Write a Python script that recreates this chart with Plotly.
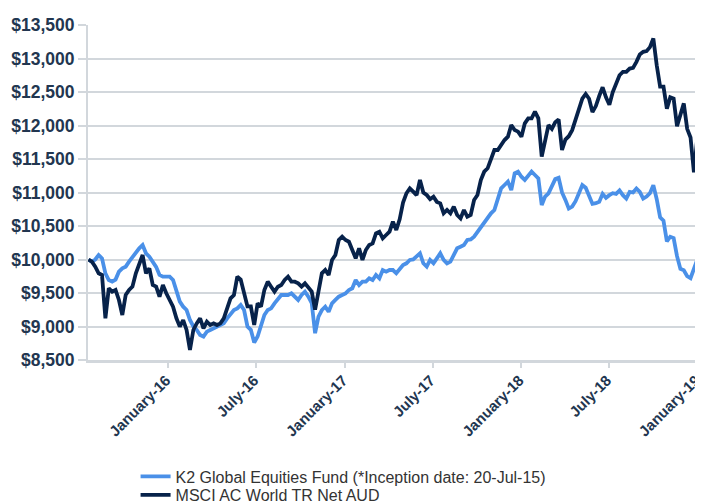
import pandas as pd
import plotly.graph_objects as go

# Weekly observation dates (Mondays) from inception 20-Jul-15 to 31-Dec-18
WEEK_START = "2015-07-20"
N_WEEKS = 181
dates = pd.date_range(WEEK_START, periods=N_WEEKS, freq="7D")

k2_fund = [
    10000, 9968, 10000, 10067, 10017, 9794, 9694, 9670, 9700, 9818,
    9868, 9893, 9968, 10042, 10117, 10167, 10216, 10092, 10042, 9968,
    9890, 9769, 9744, 9744, 9744, 9694, 9520, 9371, 9296, 9246,
    9097, 9000, 8948, 8873, 8848, 8923, 8948, 8973, 8998, 9022,
    9047, 9122, 9196, 9246, 9271, 9321, 9246, 9000,
    8950, 8760, 8850, 8998, 9172, 9246, 9271, 9346, 9420, 9470,
    9470, 9470, 9495, 9445, 9396, 9470, 9520, 9445, 9350, 8900,
    9147, 9246, 9296, 9221, 9346, 9396, 9445, 9470, 9495, 9545,
    9570, 9694, 9620, 9669, 9669, 9719, 9694, 9769, 9719, 9843,
    9818, 9843, 9843, 9794, 9860, 9918,
    9943, 9993, 10000, 10050, 10092, 9943, 9893, 9993, 9943, 10017,
    10092, 9993, 9943, 9968, 10067, 10167, 10191, 10216, 10291, 10300,
    10341, 10415, 10490, 10565, 10639, 10689, 10739, 10888, 11062, 11112,
    11162, 11037, 11286, 11311, 11236, 11187, 11261, 11311, 11261, 11211,
    10813, 10938, 10988, 11100, 11200, 11220,
    11000, 10890, 10760, 10790, 10870, 10990, 11110, 11070, 10940, 10830,
    10840, 10860, 10980, 10920, 10960, 10990, 10980, 11030, 10960, 10910,
    11010, 11000, 11060, 11010, 10910, 10940, 10990, 11110, 10900, 10630,
    10580, 10270, 10340, 10320, 10050, 9860, 9840, 9750, 9720, 9860, 10000,
]

msci_acwi = [
    10000, 9968, 9893, 9794, 9769, 9122, 9570, 9520, 9545, 9396,
    9172, 9470, 9545, 9595, 9794, 9943, 10067, 9794, 9868, 9620,
    9595, 9445, 9620, 9495, 9396, 9296, 9122, 8998, 9097, 8948,
    8649, 8948, 9047, 9122, 8973, 9072, 9022, 9047, 9022, 9047,
    9122, 9296, 9420, 9470, 9744, 9700, 9500, 9300,
    9300, 9022, 9346, 9296, 9545, 9669, 9594, 9520, 9594, 9620,
    9694, 9744, 9669, 9669, 9644, 9594, 9644, 9570, 9520, 9250,
    9495, 9794, 9843, 9769, 9993, 10067, 10291, 10341, 10291, 10266,
    10142, 10017, 10167, 9993, 10142, 10216, 10241, 10390, 10415, 10316,
    10366, 10415, 10565, 10440, 10600, 10850,
    10988, 11062, 11013, 10960, 11187, 11000, 10963, 10900, 10938, 10860,
    10838, 10689, 10739, 10689, 10789, 10664, 10614, 10739, 10639, 10664,
    10888, 10963, 11187, 11311, 11361, 11485, 11634, 11634, 11709, 11783,
    11833, 12007, 11933, 11908, 11833, 12032, 12107, 12107, 12206, 12107,
    11535, 11808, 12007, 11950, 12050, 12090,
    11634, 11790, 11840, 11930, 12100, 12230, 12400, 12470, 12400, 12200,
    12290, 12440, 12570, 12420, 12310, 12500, 12630, 12750, 12800, 12800,
    12850, 12860, 12950, 13060, 13100, 13110, 13170, 13300, 12900, 12580,
    12580, 12250, 12420, 12400, 11990, 12150, 12330, 11950, 11820, 11300, 11820,
]

series_names = [
    "K2 Global Equities Fund (*Inception date: 20-Jul-15)",
    "MSCI AC World TR Net AUD",
]

tick_dates = ["2016-01-01", "2016-07-01", "2017-01-01", "2017-07-01",
              "2018-01-01", "2018-07-01", "2019-01-01"]
tick_labels = ["January-16", "July-16", "January-17", "July-17",
               "January-18", "July-18", "January-19"]

y_min, y_max, y_step = 8500, 13500, 500

LIGHT = "#4A90E8"
DARK = "#07224A"
GRID = "#D2D7DC"
TICK_TXT = "#223650"
FONT = "Liberation Sans, Arial, sans-serif"

fig = go.Figure()
fig.add_trace(go.Scatter(x=dates, y=k2_fund, mode="lines", name=series_names[0],
                         line=dict(color=LIGHT, width=3.8), legend="legend"))
fig.add_trace(go.Scatter(x=dates, y=msci_acwi, mode="lines", name=series_names[1],
                         line=dict(color=DARK, width=3.8), legend="legend2"))

legend_common = dict(orientation="v", x=0.078, xanchor="left", yanchor="top",
                     font=dict(size=16, color="#333333", family=FONT),
                     bgcolor="rgba(0,0,0,0)")

# the page body keeps an 8px default margin, so the figure is sized to end at the window edge
fig.update_layout(
    width=695, height=496,
    margin=dict(l=80, r=5, t=17, b=144, autoexpand=False),
    paper_bgcolor="white", plot_bgcolor="white",
    font=dict(family=FONT, color="#333333"),
    showlegend=True,
    legend=dict(y=-0.297, **legend_common),
    legend2=dict(y=-0.352, **legend_common),
    xaxis=dict(
        type="date", range=["2015-07-19", "2019-01-01 10:00"],
        tickvals=tick_dates, ticktext=tick_labels, tickangle=-45,
        tickfont=dict(size=15, color=TICK_TXT, family=FONT, weight="bold"),
        ticklabeloverflow="allow", ticklabelshift=-2, ticklabelstandoff=-2,
        showgrid=False, showline=True, linecolor=GRID, linewidth=2.5,
        ticks="outside", ticklen=5, tickcolor=GRID, tickwidth=1.5,
        zeroline=False, automargin=False,
    ),
    yaxis=dict(
        range=[y_min, y_max], dtick=y_step, tick0=y_min, tickformat="$,.0f",
        tickfont=dict(size=17.5, color=TICK_TXT, family=FONT, weight="bold"),
        showgrid=True, gridcolor=GRID, gridwidth=1.5,
        showline=True, linecolor=GRID, linewidth=2,
        ticks="outside", ticklen=8, tickcolor=GRID, tickwidth=1.5,
        zeroline=False, automargin=False,
    ),
)

fig.write_html("out.html")
